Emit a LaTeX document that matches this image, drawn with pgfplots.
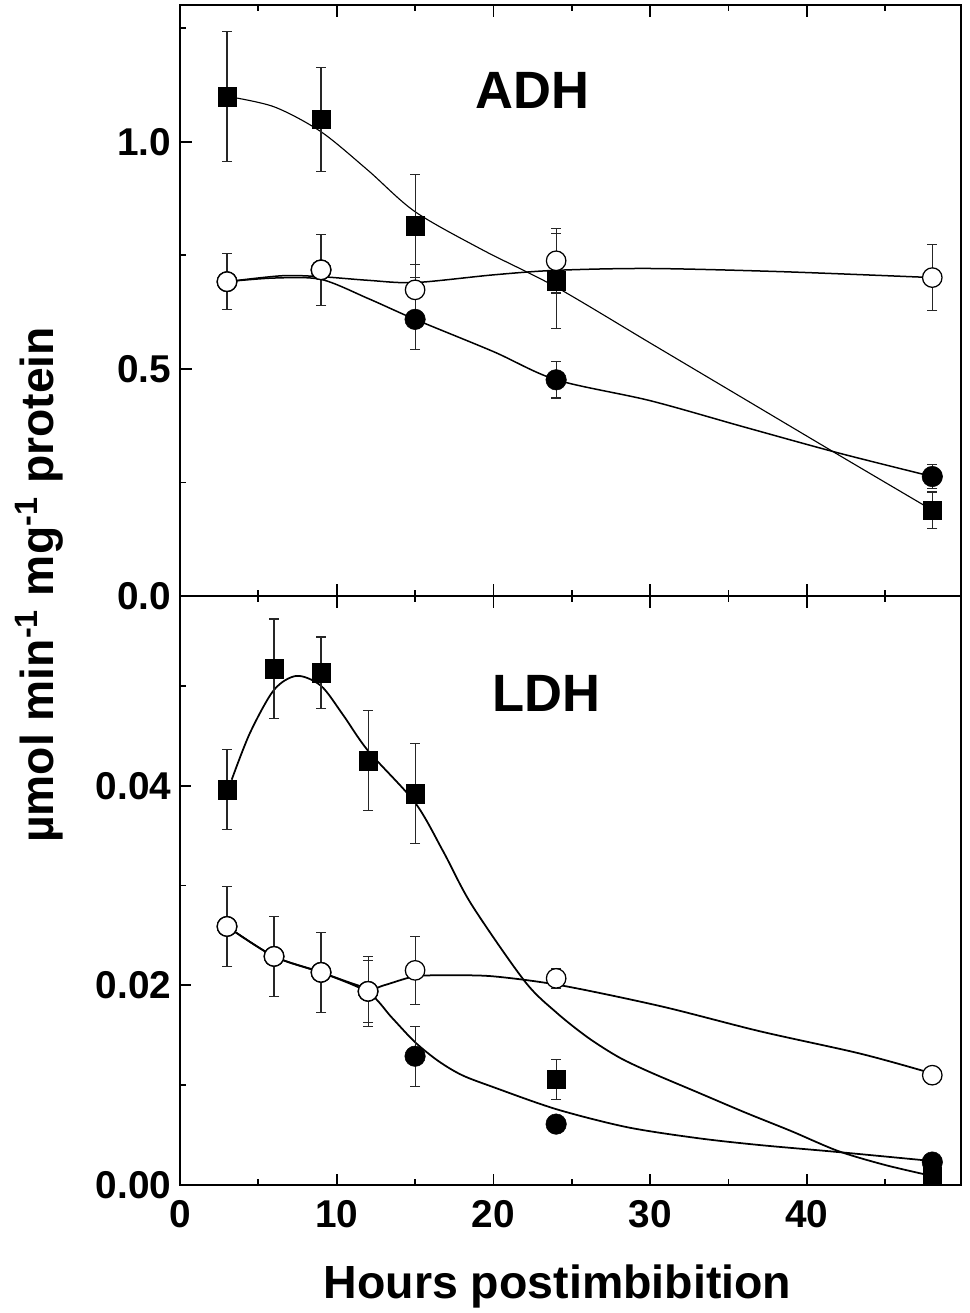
\documentclass[border=0pt]{standalone}
\usepackage{pgfplots}
\pgfplotsset{compat=1.18}
\usepackage{pgfplotstable}
\usepackage{fontspec}
\setmainfont{Liberation Sans}

% ---------------- marker data (x, y, error) ----------------
\pgfplotstableread{
x y ey
3 1.099 0.143
9 1.049 0.115
15 0.815 0.113
24 0.694 0.105
48 0.189 0.040
}\ADHsq
\pgfplotstableread{
x y ey
3 0.692 0.062
9 0.718 0.078
15 0.674 0.055
24 0.738 0.071
48 0.701 0.073
}\ADHopen
\pgfplotstableread{
x y ey
3 0.692 0.062
9 0.718 0.078
15 0.609 0.067
24 0.476 0.040
48 0.263 0.027
}\ADHfill
\pgfplotstableread{
x y ey
3 0.0396 0.0040
6 0.0517 0.0050
9 0.0513 0.0036
12 0.0425 0.0050
15 0.0392 0.0050
24 0.0106 0.0020
48 0.0009 0.0005
}\LDHsq
\pgfplotstableread{
x y ey
3 0.0259 0.0040
6 0.0229 0.0040
9 0.0213 0.0040
12 0.0194 0.0035
15 0.0215 0.0034
24 0.0207 0.0010
48 0.0110 0.0005
}\LDHopen
\pgfplotstableread{
x y ey
3 0.0259 0.0040
6 0.0229 0.0040
9 0.0213 0.0040
12 0.0194 0.0031
15 0.0129 0.0030
24 0.0061 0.0005
48 0.0023 0.0005
}\LDHfill

% ---------------- fitted curves ----------------
\pgfplotstableread{
x y
3 1.100
6 1.077
9 1.022
12 0.937
15 0.846
19.3 0.762
24 0.680
30 0.557
36 0.434
42 0.311
48 0.189
}\ADHsqC
\pgfplotstableread{
x y
3 0.692
6.5 0.705
9 0.703
12 0.695
15 0.690
20 0.707
24 0.717
30 0.721
38.4 0.714
48 0.701
}\ADHopenC
\pgfplotstableread{
x y
3 0.692
6 0.700
9 0.697
12 0.655
15 0.609
20 0.538
24 0.476
30 0.430
36 0.372
42 0.315
48 0.263
}\ADHfillC
\pgfplotstableread{
x y
3.3 0.0406
4.47 0.0453
6 0.0496
7.45 0.0510
9 0.0500
10.4 0.0471
12 0.0435
15 0.0383
16.8 0.0334
18.6 0.0281
22 0.0204
24 0.0173
26 0.0148
28 0.0128
30 0.0113
33 0.0093
36 0.0073
39 0.0054
42 0.0034
45 0.0020
48 0.0009
}\LDHsqC
\pgfplotstableread{
x y
3 0.0259
6 0.0229
9 0.0213
12 0.0197
13 0.0200
15 0.0209
17.2 0.0210
20 0.0209
24.3 0.0200
30.7 0.0179
37 0.0154
43.3 0.0132
47.5 0.0114
48 0.0111
}\LDHopenC
\pgfplotstableread{
x y
3 0.0259
6 0.0229
9 0.0213
12 0.0193
13.5 0.0168
15 0.0143
16.5 0.0124
18 0.0110
20 0.0098
24 0.0076
28.5 0.0058
33 0.0047
37 0.0040
42 0.0033
48 0.0024
}\LDHfillC

\pgfplotsset{
  panel/.style={
    scale only axis,
    width=312.2pt,
    xmin=0, xmax=49.8,
    ymin=0,
    clip=false,
    axis line style={line width=0.8pt},
    xtick={0,10,20,30,40},
    minor xtick={5,15,25,35,45},
    tick align=inside,
    major tick length=4.6pt,
    minor tick length=2.4pt,
    every tick/.style={line width=0.7pt, black},
    ytick pos=left,
    /pgf/number format/assume math mode=true,
    ticklabel style={font=\fontsize{15.5}{17}\selectfont\bfseries},
    xticklabel style={yshift=-2.6pt},
    scaled y ticks=false,
  },
  curve/.style={black, line width=0.6pt, smooth, no markers},
  errs/.style={error bars/.cd, y dir=both, y explicit,
    error bar style={line width=0.45pt, black!85},
    error mark=-,
    error mark options={rotate=90, line width=0.45pt, mark size=2pt, black!85}},
  sqmark/.style={only marks, mark=square*, mark size=3.66pt,
    mark options={fill=black, draw=black, line width=0.2pt}, errs},
  fillmark/.style={only marks, mark=*, mark size=4.1pt,
    mark options={fill=black, draw=black, line width=0.2pt}, errs},
  openmark/.style={only marks, mark=*, mark size=3.9pt,
    mark options={fill=white, draw=black, line width=0.5pt}, errs},
}

\begin{document}
\begin{tikzpicture}

% ---------------- LDH (bottom) ----------------
\begin{axis}[panel,
  at={(0pt,0pt)}, anchor=south west,
  height=235.6pt,
  ymax=0.059,
  ytick={0,0.02,0.04},
  minor ytick={0.01,0.03,0.05},
  yticklabel style={/pgf/number format/fixed, /pgf/number format/fixed zerofill, /pgf/number format/precision=2},
]
\addplot[curve, line width=0.7pt] table[x=x,y=y] {\LDHsqC};
\addplot[curve, line width=0.7pt] table[x=x,y=y] {\LDHopenC};
\addplot[curve, line width=0.7pt] table[x=x,y=y] {\LDHfillC};
\addplot[fillmark] table[x=x,y=y,y error=ey] {\LDHfill};
\addplot[sqmark] table[x=x,y=y,y error=ey] {\LDHsq};
\addplot[openmark] table[x=x,y=y,y error=ey] {\LDHopen};
\node[font=\fontsize{21}{24}\selectfont\bfseries] at (axis cs:23.4,0.0492) {LDH};
\end{axis}

% ---------------- ADH (top) ----------------
\begin{axis}[panel,
  at={(0pt,235.6pt)}, anchor=south west,
  height=236.2pt,
  ymax=1.3,
  ytick={0,0.5,1.0},
  minor ytick={0.25,0.75,1.25},
  xticklabels={},
  yticklabel style={/pgf/number format/fixed, /pgf/number format/fixed zerofill, /pgf/number format/precision=1},
]
\addplot[curve, line width=0.45pt] table[x=x,y=y] {\ADHsqC};
\addplot[curve] table[x=x,y=y] {\ADHopenC};
\addplot[curve] table[x=x,y=y] {\ADHfillC};
\addplot[fillmark] table[x=x,y=y,y error=ey] {\ADHfill};
\addplot[sqmark] table[x=x,y=y,y error=ey] {\ADHsq};
\addplot[openmark] table[x=x,y=y,y error=ey] {\ADHopen};
\node[font=\fontsize{21}{24}\selectfont\bfseries] at (axis cs:22.5,1.112) {ADH};
\end{axis}

% axis titles
\node[anchor=base, font=\fontsize{18.6}{20}\selectfont\bfseries] at (151pt,-45.2pt) {Hours postimbibition};
\node[anchor=base, rotate=90, font=\fontsize{18.5}{20}\selectfont\bfseries] at (-50.7pt,240pt)
  {µmol min\textsuperscript{-1} mg\textsuperscript{-1} protein};

\pgfresetboundingbox
\useasboundingbox (-72pt,-51.2pt) rectangle (316pt,474pt);
\end{tikzpicture}
\end{document}
